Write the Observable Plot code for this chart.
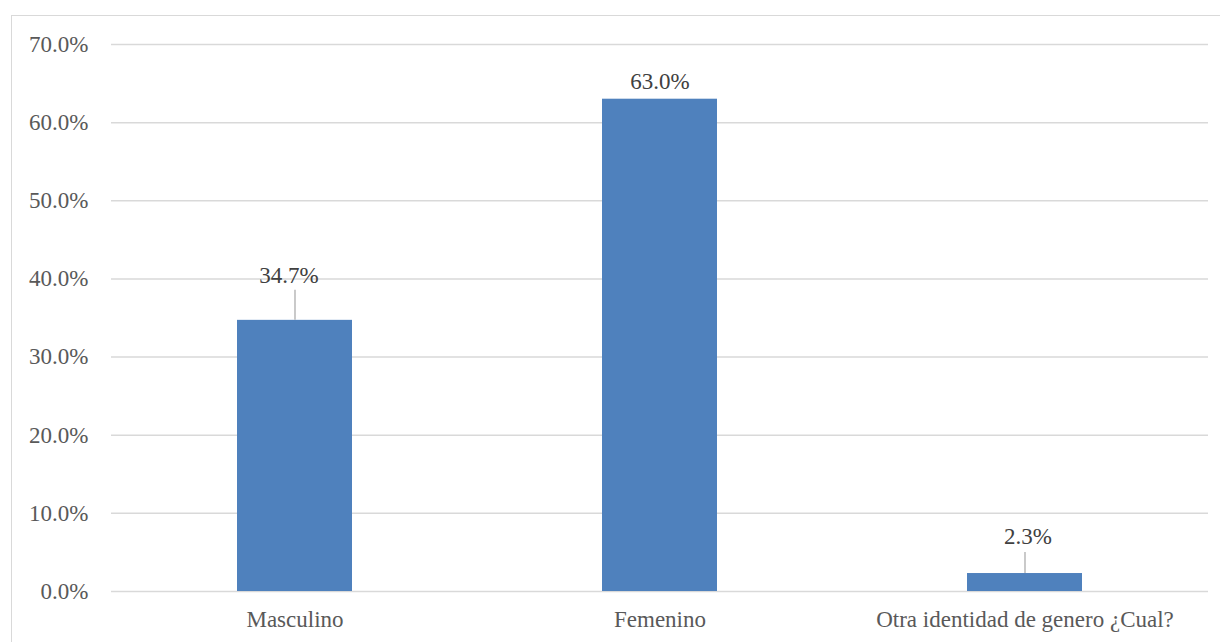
<!DOCTYPE html>
<html>
<head>
<meta charset="utf-8">
<script src="https://cdn.jsdelivr.net/npm/d3@7"></script>
<script src="https://cdn.jsdelivr.net/npm/@observablehq/plot@0.6"></script>
<style>
  html, body { margin: 0; padding: 0; background: #fff; overflow: hidden; }
  #wrap { position: relative; width: 1220px; height: 642px; }
  #frame { position: absolute; left: 11px; top: 15px; width: 1230px; height: 650px; border: 1.5px solid #d9d9d9; box-sizing: border-box; }
  #chart { position: absolute; left: 0; top: 0; }
</style>
</head>
<body>
<div id="wrap"><div id="frame"></div><div id="chart"></div></div>
<script>
const categories = ["Masculino", "Femenino", "Otra identidad de genero ¿Cual?"];
const values = [34.7, 63.0, 2.3];
const yTicks = [0, 10, 20, 30, 40, 50, 60, 70];

const data = categories.map((c, i) => ({category: c, value: values[i]}));
const fmt = v => v.toFixed(1) + "%";
const font = "'Liberation Serif', 'Times New Roman', serif";

const chart = Plot.plot({
  width: 1220,
  height: 642,
  marginLeft: 111,
  marginRight: 12,
  marginTop: 44,
  marginBottom: 51,
  style: {fontFamily: font, fontSize: "23px", background: "transparent", overflow: "visible"},
  x: {domain: categories, paddingInner: 0.6855, paddingOuter: 0.3428, label: null},
  y: {domain: [0, 70], label: null},
  marks: [
    Plot.ruleY(yTicks, {stroke: "#d9d9d9", strokeWidth: 1.5}),
    Plot.barY(data, {x: "category", y: "value", fill: "#4F81BD"}),
    Plot.axisY({ticks: yTicks, tickSize: 0, tickPadding: 23, tickFormat: fmt, fill: "#595959", fontSize: 23, fontFamily: font, label: null}),
    Plot.axisX({tickSize: 0, tickPadding: 19, fill: "#595959", fontSize: 23, fontFamily: font, label: null}),
    // leader lines
    Plot.ruleX(data.filter(d => d.category === categories[0]), {x: "category", y1: "value", y2: "value", insetTop: -30, stroke: "#a6a6a6", strokeWidth: 1.2}),
    Plot.ruleX(data.filter(d => d.category === categories[2]), {x: "category", y1: "value", y2: "value", insetTop: -21, stroke: "#a6a6a6", strokeWidth: 1.2}),
    // data labels
    Plot.text(data.filter(d => d.category === categories[0]), {x: "category", y: "value", text: d => fmt(d.value), dy: -45, dx: -6, fill: "#404040", fontSize: 23, fontFamily: font}),
    Plot.text(data.filter(d => d.category === categories[1]), {x: "category", y: "value", text: d => fmt(d.value), dy: -18, fill: "#404040", fontSize: 23, fontFamily: font}),
    Plot.text(data.filter(d => d.category === categories[2]), {x: "category", y: "value", text: d => fmt(d.value), dy: -37, dx: 3, fill: "#404040", fontSize: 23, fontFamily: font})
  ]
});
document.getElementById("chart").appendChild(chart);
</script>
</body>
</html>
